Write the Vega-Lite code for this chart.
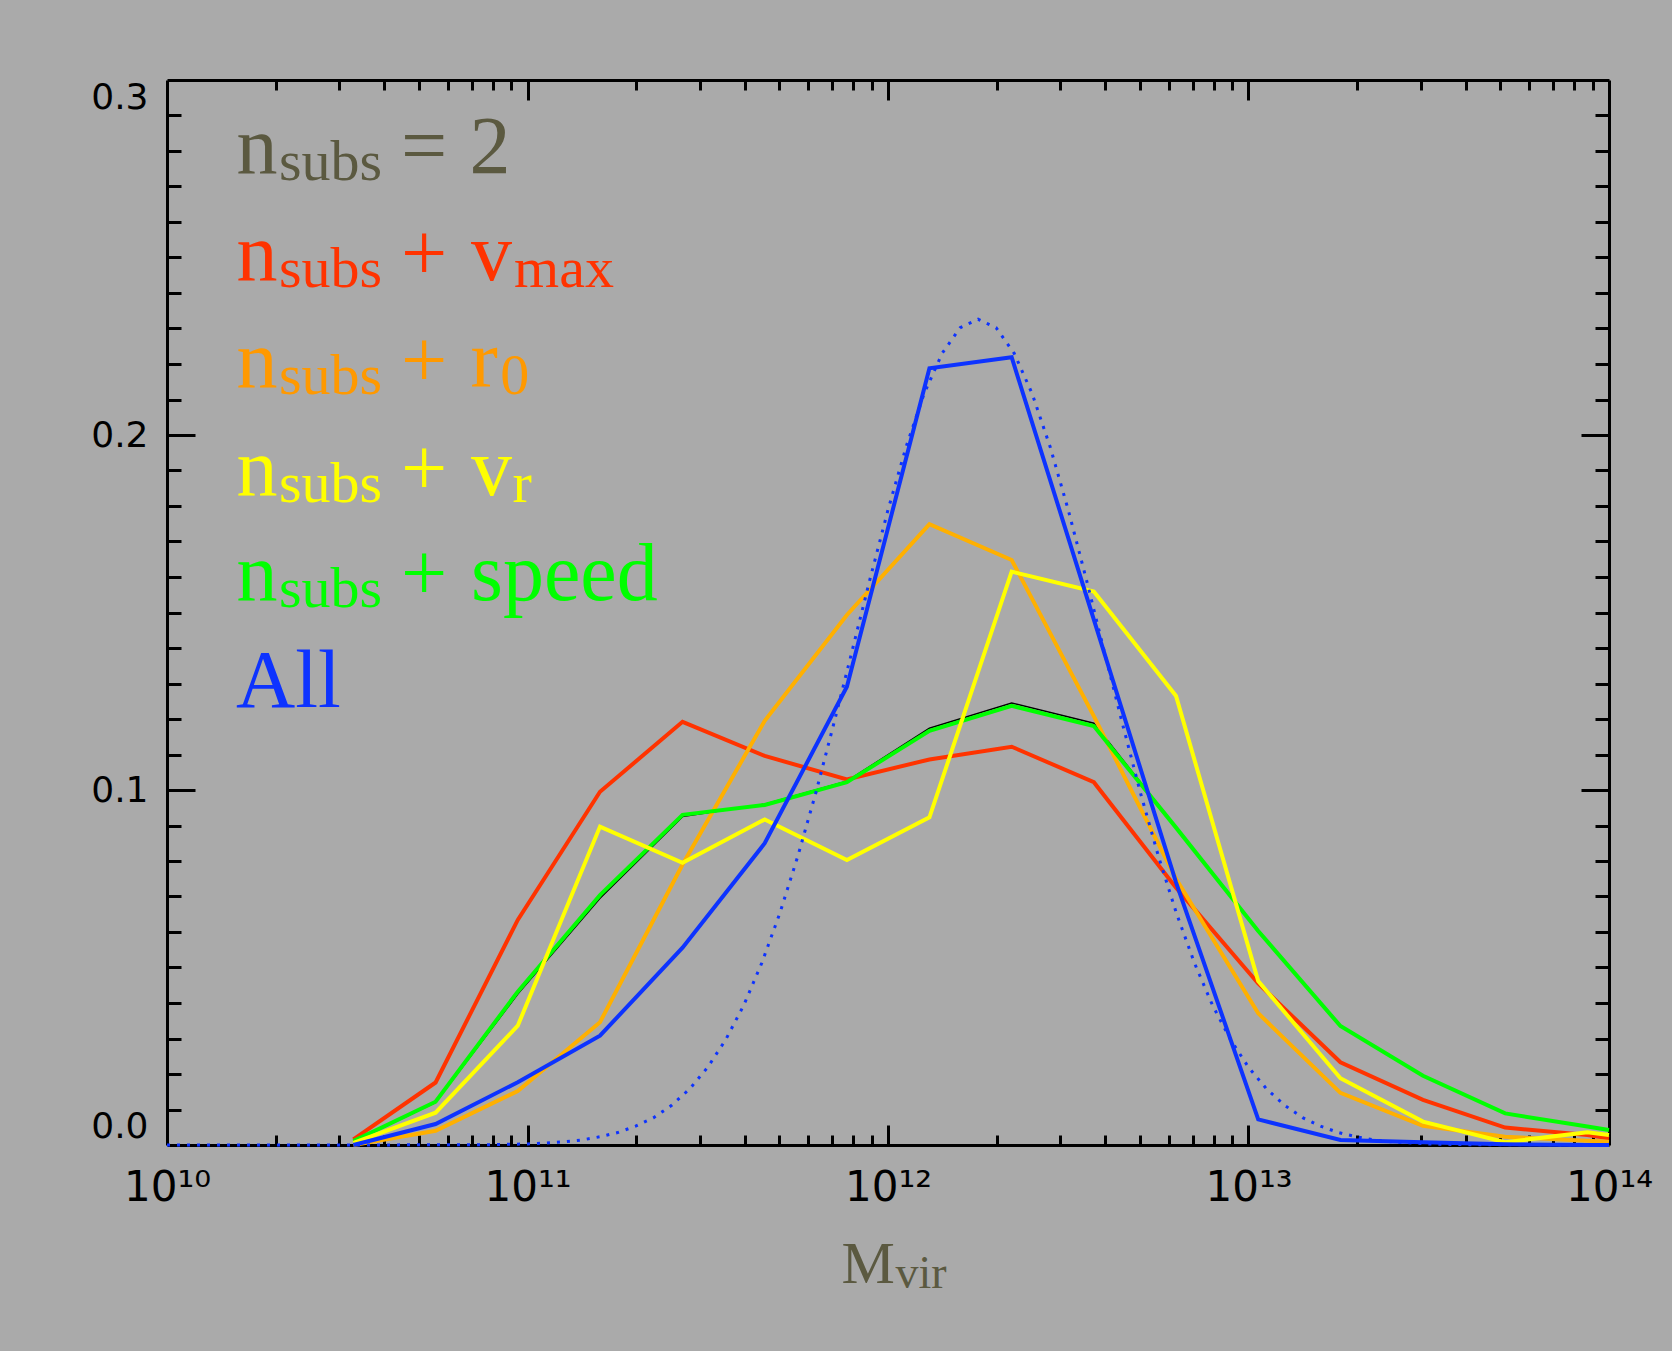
{
  "$schema": "https://vega.github.io/schema/vega-lite/v6.json",
  "width": 1442,
  "height": 1065,
  "autosize": {"type": "none"},
  "padding": {"left": 167, "top": 80, "right": 63, "bottom": 206},
  "background": "#aaaaaa",
  "config": {"view": {"stroke": null}},
  "datasets": {
    "black": [
      {"M": 3.289e10, "f": 0.0010}, {"M": 5.559e10, "f": 0.0120}, {"M": 9.397e10, "f": 0.0425},
      {"M": 1.589e11, "f": 0.0695}, {"M": 2.692e11, "f": 0.0925}, {"M": 4.550e11, "f": 0.0960},
      {"M": 7.691e11, "f": 0.1025}, {"M": 1.303e12, "f": 0.1174}, {"M": 2.203e12, "f": 0.1245},
      {"M": 3.724e12, "f": 0.1188}, {"M": 6.295e12, "f": 0.0895}, {"M": 1.064e13, "f": 0.0603},
      {"M": 1.799e13, "f": 0.0335}, {"M": 3.048e13, "f": 0.0195}, {"M": 5.152e13, "f": 0.0089},
      {"M": 8.710e13, "f": 0.0052}, {"M": 1e14, "f": 0.0042}
    ],
    "curves": [
      {"series": "nsubs + vmax", "M": 3.289e10, "f": 0.0016}, {"series": "nsubs + vmax", "M": 5.559e10, "f": 0.0176},
      {"series": "nsubs + vmax", "M": 9.397e10, "f": 0.0634}, {"series": "nsubs + vmax", "M": 1.589e11, "f": 0.0995},
      {"series": "nsubs + vmax", "M": 2.692e11, "f": 0.1192}, {"series": "nsubs + vmax", "M": 4.550e11, "f": 0.1096},
      {"series": "nsubs + vmax", "M": 7.691e11, "f": 0.1030}, {"series": "nsubs + vmax", "M": 1.303e12, "f": 0.1086},
      {"series": "nsubs + vmax", "M": 2.203e12, "f": 0.1122}, {"series": "nsubs + vmax", "M": 3.724e12, "f": 0.1022},
      {"series": "nsubs + vmax", "M": 6.295e12, "f": 0.0725}, {"series": "nsubs + vmax", "M": 1.064e13, "f": 0.0455},
      {"series": "nsubs + vmax", "M": 1.799e13, "f": 0.0233}, {"series": "nsubs + vmax", "M": 3.048e13, "f": 0.0127},
      {"series": "nsubs + vmax", "M": 5.152e13, "f": 0.0049}, {"series": "nsubs + vmax", "M": 8.710e13, "f": 0.0028},
      {"series": "nsubs + vmax", "M": 1e14, "f": 0.0019},

      {"series": "nsubs + r0", "M": 3.289e10, "f": 0.0000}, {"series": "nsubs + r0", "M": 5.559e10, "f": 0.0040},
      {"series": "nsubs + r0", "M": 9.397e10, "f": 0.0152}, {"series": "nsubs + r0", "M": 1.589e11, "f": 0.0346},
      {"series": "nsubs + r0", "M": 2.692e11, "f": 0.0790}, {"series": "nsubs + r0", "M": 4.550e11, "f": 0.1195},
      {"series": "nsubs + r0", "M": 7.691e11, "f": 0.1493}, {"series": "nsubs + r0", "M": 1.303e12, "f": 0.1749},
      {"series": "nsubs + r0", "M": 2.203e12, "f": 0.1648}, {"series": "nsubs + r0", "M": 3.724e12, "f": 0.1208},
      {"series": "nsubs + r0", "M": 6.295e12, "f": 0.0750}, {"series": "nsubs + r0", "M": 1.064e13, "f": 0.0371},
      {"series": "nsubs + r0", "M": 1.799e13, "f": 0.0147}, {"series": "nsubs + r0", "M": 3.048e13, "f": 0.0054},
      {"series": "nsubs + r0", "M": 5.152e13, "f": 0.0023}, {"series": "nsubs + r0", "M": 8.710e13, "f": 0.0012},
      {"series": "nsubs + r0", "M": 1e14, "f": 0.0009},

      {"series": "nsubs + speed", "M": 3.289e10, "f": 0.0011}, {"series": "nsubs + speed", "M": 5.559e10, "f": 0.0122},
      {"series": "nsubs + speed", "M": 9.397e10, "f": 0.0432}, {"series": "nsubs + speed", "M": 1.589e11, "f": 0.0704},
      {"series": "nsubs + speed", "M": 2.692e11, "f": 0.0930}, {"series": "nsubs + speed", "M": 4.550e11, "f": 0.0958},
      {"series": "nsubs + speed", "M": 7.691e11, "f": 0.1022}, {"series": "nsubs + speed", "M": 1.303e12, "f": 0.1167},
      {"series": "nsubs + speed", "M": 2.203e12, "f": 0.1237}, {"series": "nsubs + speed", "M": 3.724e12, "f": 0.1180},
      {"series": "nsubs + speed", "M": 6.295e12, "f": 0.0894}, {"series": "nsubs + speed", "M": 1.064e13, "f": 0.0603},
      {"series": "nsubs + speed", "M": 1.799e13, "f": 0.0335}, {"series": "nsubs + speed", "M": 3.048e13, "f": 0.0195},
      {"series": "nsubs + speed", "M": 5.152e13, "f": 0.0089}, {"series": "nsubs + speed", "M": 8.710e13, "f": 0.0052},
      {"series": "nsubs + speed", "M": 1e14, "f": 0.0042},

      {"series": "nsubs + vr", "M": 3.289e10, "f": 0.0006}, {"series": "nsubs + vr", "M": 5.559e10, "f": 0.0091},
      {"series": "nsubs + vr", "M": 9.397e10, "f": 0.0336}, {"series": "nsubs + vr", "M": 1.589e11, "f": 0.0897},
      {"series": "nsubs + vr", "M": 2.692e11, "f": 0.0795}, {"series": "nsubs + vr", "M": 4.550e11, "f": 0.0917},
      {"series": "nsubs + vr", "M": 7.691e11, "f": 0.0803}, {"series": "nsubs + vr", "M": 1.303e12, "f": 0.0923},
      {"series": "nsubs + vr", "M": 2.203e12, "f": 0.1615}, {"series": "nsubs + vr", "M": 3.724e12, "f": 0.1559},
      {"series": "nsubs + vr", "M": 6.295e12, "f": 0.1265}, {"series": "nsubs + vr", "M": 1.064e13, "f": 0.0462},
      {"series": "nsubs + vr", "M": 1.799e13, "f": 0.0188}, {"series": "nsubs + vr", "M": 3.048e13, "f": 0.0066},
      {"series": "nsubs + vr", "M": 5.152e13, "f": 0.0008}, {"series": "nsubs + vr", "M": 8.710e13, "f": 0.0036},
      {"series": "nsubs + vr", "M": 1e14, "f": 0.0028},

      {"series": "All", "M": 3.289e10, "f": 0.0000}, {"series": "All", "M": 5.559e10, "f": 0.0059},
      {"series": "All", "M": 9.397e10, "f": 0.0177}, {"series": "All", "M": 1.589e11, "f": 0.0308},
      {"series": "All", "M": 2.692e11, "f": 0.0556}, {"series": "All", "M": 4.550e11, "f": 0.0850},
      {"series": "All", "M": 7.691e11, "f": 0.1291}, {"series": "All", "M": 1.303e12, "f": 0.2188},
      {"series": "All", "M": 2.203e12, "f": 0.2219}, {"series": "All", "M": 3.724e12, "f": 0.1480},
      {"series": "All", "M": 6.295e12, "f": 0.0740}, {"series": "All", "M": 1.064e13, "f": 0.0072},
      {"series": "All", "M": 1.799e13, "f": 0.0014}, {"series": "All", "M": 3.048e13, "f": 0.0008},
      {"series": "All", "M": 5.152e13, "f": 0.0002}, {"series": "All", "M": 8.710e13, "f": 0.0000},
      {"series": "All", "M": 1e14, "f": 0.0000}
    ],
    "model": [
      {"M": 1e10, "f": 0}, {"M": 3.162e10, "f": 0}, {"M": 7.943e10, "f": 0.0001}, {"M": 1e11, "f": 0.0003},
      {"M": 1.122e11, "f": 0.00055}, {"M": 1.259e11, "f": 0.0009}, {"M": 1.413e11, "f": 0.0014},
      {"M": 1.585e11, "f": 0.0023}, {"M": 1.778e11, "f": 0.0035}, {"M": 1.995e11, "f": 0.0053},
      {"M": 2.239e11, "f": 0.0077}, {"M": 2.512e11, "f": 0.0112}, {"M": 2.818e11, "f": 0.0158},
      {"M": 3.162e11, "f": 0.0219}, {"M": 3.548e11, "f": 0.0297}, {"M": 3.981e11, "f": 0.0394},
      {"M": 4.467e11, "f": 0.0513}, {"M": 5.012e11, "f": 0.0653}, {"M": 5.623e11, "f": 0.0814},
      {"M": 6.310e11, "f": 0.0993}, {"M": 7.079e11, "f": 0.1188}, {"M": 7.943e11, "f": 0.1390},
      {"M": 8.913e11, "f": 0.1594}, {"M": 1e12, "f": 0.1789}, {"M": 1.122e12, "f": 0.1966},
      {"M": 1.259e12, "f": 0.2116}, {"M": 1.413e12, "f": 0.2230}, {"M": 1.585e12, "f": 0.2302},
      {"M": 1.778e12, "f": 0.2326}, {"M": 1.995e12, "f": 0.2302}, {"M": 2.239e12, "f": 0.2230},
      {"M": 2.512e12, "f": 0.2116}, {"M": 2.818e12, "f": 0.1966}, {"M": 3.162e12, "f": 0.1789},
      {"M": 3.548e12, "f": 0.1594}, {"M": 3.981e12, "f": 0.1390}, {"M": 4.467e12, "f": 0.1188},
      {"M": 5.012e12, "f": 0.0993}, {"M": 5.623e12, "f": 0.0814}, {"M": 6.310e12, "f": 0.0653},
      {"M": 7.079e12, "f": 0.0513}, {"M": 7.943e12, "f": 0.0394}, {"M": 8.913e12, "f": 0.0297},
      {"M": 1e13, "f": 0.0219}, {"M": 1.122e13, "f": 0.0158}, {"M": 1.259e13, "f": 0.0112},
      {"M": 1.413e13, "f": 0.0077}, {"M": 1.585e13, "f": 0.0053}, {"M": 1.778e13, "f": 0.0035},
      {"M": 1.995e13, "f": 0.0023}, {"M": 2.239e13, "f": 0.0014}, {"M": 2.512e13, "f": 0.0009},
      {"M": 3.162e13, "f": 0.0003}, {"M": 3.981e13, "f": 0.0001}, {"M": 1e14, "f": 0}
    ],
    "labels": [
      {"series": "nsubs = 2", "part": "main", "text": "n", "M": 1.558e10, "f": 0.2738},
      {"series": "nsubs = 2", "part": "sub", "text": "subs", "M": 2.044e10, "f": 0.2738},
      {"series": "nsubs = 2", "part": "main", "text": "=", "M": 4.458e10, "f": 0.2738},
      {"series": "nsubs = 2", "part": "main", "text": "2", "M": 6.909e10, "f": 0.2738},
      {"series": "nsubs + vmax", "part": "main", "text": "n", "M": 1.558e10, "f": 0.2437},
      {"series": "nsubs + vmax", "part": "sub", "text": "subs", "M": 2.044e10, "f": 0.2437},
      {"series": "nsubs + vmax", "part": "main", "text": "+", "M": 4.458e10, "f": 0.2437},
      {"series": "nsubs + vmax", "part": "main", "text": "v", "M": 6.971e10, "f": 0.2437},
      {"series": "nsubs + vmax", "part": "sub", "text": "max", "M": 9.176e10, "f": 0.2437},
      {"series": "nsubs + r0", "part": "main", "text": "n", "M": 1.558e10, "f": 0.2136},
      {"series": "nsubs + r0", "part": "sub", "text": "subs", "M": 2.044e10, "f": 0.2136},
      {"series": "nsubs + r0", "part": "main", "text": "+", "M": 4.458e10, "f": 0.2136},
      {"series": "nsubs + r0", "part": "main", "text": "r", "M": 6.950e10, "f": 0.2136},
      {"series": "nsubs + r0", "part": "sub", "text": "0", "M": 8.405e10, "f": 0.2136},
      {"series": "nsubs + vr", "part": "main", "text": "n", "M": 1.558e10, "f": 0.1831},
      {"series": "nsubs + vr", "part": "sub", "text": "subs", "M": 2.044e10, "f": 0.1831},
      {"series": "nsubs + vr", "part": "main", "text": "+", "M": 4.458e10, "f": 0.1831},
      {"series": "nsubs + vr", "part": "main", "text": "v", "M": 6.971e10, "f": 0.1831},
      {"series": "nsubs + vr", "part": "sub", "text": "r", "M": 9.087e10, "f": 0.1831},
      {"series": "nsubs + speed", "part": "main", "text": "n", "M": 1.558e10, "f": 0.1535},
      {"series": "nsubs + speed", "part": "sub", "text": "subs", "M": 2.044e10, "f": 0.1535},
      {"series": "nsubs + speed", "part": "main", "text": "+", "M": 4.458e10, "f": 0.1535},
      {"series": "nsubs + speed", "part": "main", "text": "speed", "M": 6.971e10, "f": 0.1535},
      {"series": "All", "part": "main", "text": "All", "M": 1.554e10, "f": 0.1235}
    ]
  },
  "layer": [
    {
      "data": {"name": "black"},
      "mark": {"type": "line", "color": "black", "strokeWidth": 1.5},
      "encoding": {
        "x": {"field": "M", "type": "quantitative",
          "scale": {"type": "log", "domain": [1e10, 1e14], "nice": false},
          "axis": {"orient": "bottom", "values": [1e11, 1e12, 1e13], "labels": false, "domain": false,
            "ticks": true, "tickSize": -20, "tickWidth": 3, "tickColor": "black", "grid": false,
            "title": "vir", "titleFont": "Liberation Serif", "titleFontSize": 46, "titleFontWeight": "normal",
            "titleColor": "#5b5940", "titleX": 728, "titleY": 142, "titleAlign": "left", "titleBaseline": "alphabetic"}},
        "y": {"field": "f", "type": "quantitative",
          "scale": {"domain": [0, 0.3], "nice": false, "zero": false},
          "axis": {"orient": "left", "values": [0.1, 0.2], "labels": false, "domain": false,
            "ticks": true, "tickSize": -28, "tickWidth": 3, "tickColor": "black", "grid": false, "title": null}}
      }
    },
    {
      "data": {"name": "curves"},
      "mark": {"type": "line", "strokeWidth": 4},
      "encoding": {
        "x": {"field": "M", "type": "quantitative",
          "scale": {"type": "log", "domain": [1e10, 1e14], "nice": false},
          "axis": {"orient": "bottom", "values": [1e10, 1e11, 1e12, 1e13, 1e14], "ticks": false,
            "domain": true, "domainColor": "black", "domainWidth": 3, "grid": false,
            "labelExpr": "datum.value < 5e10 ? '10¹⁰' : datum.value < 5e11 ? '10¹¹' : datum.value < 5e12 ? '10¹²' : datum.value < 5e13 ? '10¹³' : '10¹⁴'",
            "labelFont": "DejaVu Sans", "labelFontSize": 42, "labelColor": "black", "labelPadding": 22,
            "labelFlush": false, "labelOverlap": false, "labelBound": false,
            "title": "M", "titleFont": "Liberation Serif", "titleFontSize": 60, "titleFontWeight": "normal",
            "titleColor": "#5b5940", "titleX": 674, "titleY": 137, "titleAlign": "left", "titleBaseline": "alphabetic"}},
        "y": {"field": "f", "type": "quantitative",
          "scale": {"domain": [0, 0.3], "nice": false, "zero": false},
          "axis": {"orient": "left", "values": [0, 0.1, 0.2, 0.3], "format": ".1f", "ticks": false,
            "domain": true, "domainColor": "black", "domainWidth": 3, "grid": false,
            "labelFont": "DejaVu Sans", "labelFontSize": 36, "labelColor": "black", "labelPadding": 19,
            "labelFlush": true, "labelOverlap": false, "title": null}},
        "color": {"field": "series", "type": "nominal",
          "scale": {"domain": ["nsubs + vmax", "nsubs + r0", "nsubs + speed", "nsubs + vr", "All"],
            "range": ["#ff3300", "#ffb000", "#00ff00", "#ffff00", "#0d33ff"]},
          "legend": null}
      }
    },
    {
      "data": {"name": "model"},
      "mark": {"type": "line", "color": "#0d33ff", "strokeWidth": 3, "strokeDash": [3, 7], "strokeCap": "butt"},
      "encoding": {
        "x": {"field": "M", "type": "quantitative",
          "scale": {"type": "log", "domain": [1e10, 1e14], "nice": false},
          "axis": {"orient": "bottom",
            "values": [2e10, 3e10, 4e10, 5e10, 6e10, 7e10, 8e10, 9e10, 2e11, 3e11, 4e11, 5e11, 6e11, 7e11, 8e11, 9e11,
                       2e12, 3e12, 4e12, 5e12, 6e12, 7e12, 8e12, 9e12, 2e13, 3e13, 4e13, 5e13, 6e13, 7e13, 8e13, 9e13],
            "labels": false, "domain": false, "ticks": true, "tickSize": -10, "tickWidth": 3,
            "tickColor": "black", "grid": false, "title": null}},
        "y": {"field": "f", "type": "quantitative",
          "scale": {"domain": [0, 0.3], "nice": false, "zero": false},
          "axis": {"orient": "left",
            "values": [0.01, 0.02, 0.03, 0.04, 0.05, 0.06, 0.07, 0.08, 0.09, 0.11, 0.12, 0.13, 0.14, 0.15, 0.16, 0.17, 0.18, 0.19,
                       0.21, 0.22, 0.23, 0.24, 0.25, 0.26, 0.27, 0.28, 0.29],
            "labels": false, "domain": false, "ticks": true, "tickSize": -14, "tickWidth": 3,
            "tickColor": "black", "grid": false, "title": null}}
      }
    },
    {
      "data": {"name": "labels"},
      "transform": [{"filter": "datum.part == 'main'"}],
      "mark": {"type": "text", "font": "Liberation Serif", "fontSize": 82, "align": "left", "baseline": "alphabetic"},
      "encoding": {
        "x": {"field": "M", "type": "quantitative",
          "scale": {"type": "log", "domain": [1e10, 1e14], "nice": false},
          "axis": {"orient": "top", "values": [1e11, 1e12, 1e13], "labels": false, "domain": true,
            "domainColor": "black", "domainWidth": 3, "ticks": true, "tickSize": -20, "tickWidth": 3,
            "tickColor": "black", "grid": false, "title": null}},
        "y": {"field": "f", "type": "quantitative",
          "scale": {"domain": [0, 0.3], "nice": false, "zero": false},
          "axis": {"orient": "right", "values": [0.1, 0.2], "labels": false, "domain": true,
            "domainColor": "black", "domainWidth": 3, "ticks": true, "tickSize": -28, "tickWidth": 3,
            "tickColor": "black", "grid": false, "title": null}},
        "text": {"field": "text"},
        "color": {"field": "series", "type": "nominal",
          "scale": {"domain": ["nsubs = 2", "nsubs + vmax", "nsubs + r0", "nsubs + vr", "nsubs + speed", "All"],
            "range": ["#5b5940", "#ff3300", "#ff9900", "#ffff00", "#00ff00", "#0d33ff"]},
          "legend": null}
      }
    },
    {
      "data": {"name": "labels"},
      "transform": [{"filter": "datum.part == 'sub'"}],
      "mark": {"type": "text", "font": "Liberation Serif", "fontSize": 58, "align": "left", "baseline": "alphabetic", "dy": 7},
      "encoding": {
        "x": {"field": "M", "type": "quantitative",
          "scale": {"type": "log", "domain": [1e10, 1e14], "nice": false},
          "axis": {"orient": "top",
            "values": [2e10, 3e10, 4e10, 5e10, 6e10, 7e10, 8e10, 9e10, 2e11, 3e11, 4e11, 5e11, 6e11, 7e11, 8e11, 9e11,
                       2e12, 3e12, 4e12, 5e12, 6e12, 7e12, 8e12, 9e12, 2e13, 3e13, 4e13, 5e13, 6e13, 7e13, 8e13, 9e13],
            "labels": false, "domain": false, "ticks": true, "tickSize": -10, "tickWidth": 3,
            "tickColor": "black", "grid": false, "title": null}},
        "y": {"field": "f", "type": "quantitative",
          "scale": {"domain": [0, 0.3], "nice": false, "zero": false},
          "axis": {"orient": "right",
            "values": [0.01, 0.02, 0.03, 0.04, 0.05, 0.06, 0.07, 0.08, 0.09, 0.11, 0.12, 0.13, 0.14, 0.15, 0.16, 0.17, 0.18, 0.19,
                       0.21, 0.22, 0.23, 0.24, 0.25, 0.26, 0.27, 0.28, 0.29],
            "labels": false, "domain": false, "ticks": true, "tickSize": -14, "tickWidth": 3,
            "tickColor": "black", "grid": false, "title": null}},
        "text": {"field": "text"},
        "color": {"field": "series", "type": "nominal",
          "scale": {"domain": ["nsubs = 2", "nsubs + vmax", "nsubs + r0", "nsubs + vr", "nsubs + speed", "All"],
            "range": ["#5b5940", "#ff3300", "#ff9900", "#ffff00", "#00ff00", "#0d33ff"]},
          "legend": null}
      }
    }
  ],
  "resolve": {"axis": {"x": "independent", "y": "independent"}, "scale": {"color": "independent"}}
}
